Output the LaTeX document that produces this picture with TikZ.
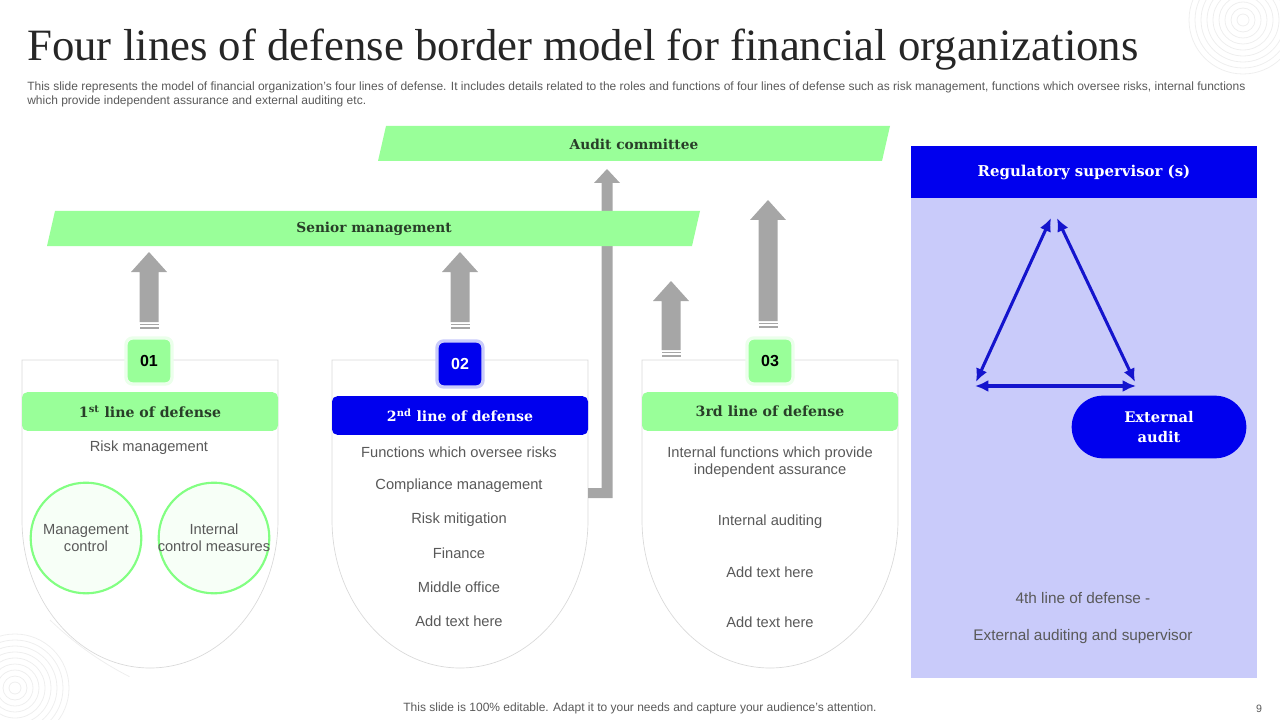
\documentclass[tikz,border=0pt]{standalone}
\usepackage{fontspec}
\setmainfont{Liberation Sans}
\newfontfamily\titlefont{Liberation Serif}
\newfontfamily\slabfont{DejaVu Serif}
\usepackage{tikz}
\usetikzlibrary{arrows.meta,positioning,calc}
\definecolor{bandgreen}{RGB}{153,255,153}
\definecolor{deepblue}{RGB}{0,0,238}
\definecolor{panelblue}{RGB}{201,203,250}
\definecolor{arrowgray}{RGB}{166,166,166}
\definecolor{textgray}{RGB}{89,89,89}
\definecolor{headgreen}{RGB}{40,62,40}
\definecolor{cardline}{RGB}{217,217,217}
\definecolor{ringgray}{RGB}{238,238,238}
\definecolor{trianglblue}{RGB}{20,20,205}

\begin{document}
\begin{tikzpicture}[x=0.75pt,y=-0.75pt,
    every node/.style={inner sep=0pt},
    body/.style={font=\fontsize{11}{13}\selectfont, text=textgray, align=center},
    heading/.style={font=\slabfont\bfseries\fontsize{10.3}{12}\selectfont},
    linebar/.style={heading, font=\slabfont\bfseries\fontsize{10.6}{12}\selectfont, rounded corners=4pt, minimum width=192pt, minimum height=29pt},
    badge/.style={rounded corners=5pt, minimum size=34.5pt, line width=2.5pt, font=\bfseries\fontsize{12}{14}\selectfont},
    bubble/.style={circle, minimum size=83pt, fill=green!3, draw=bandgreen!85!green, line width=1.6pt},
    card/.style={draw=cardline, fill=white, line width=0.5pt},
    twoway/.style={{Latex[length=10pt,width=9pt]}-{Latex[length=10pt,width=9pt]}, trianglblue, line width=2.3pt}
]
\useasboundingbox (0,0) rectangle (1280,720);

% faint rings
\foreach \r in {6,12,...,54} {
  \draw[ringgray, line width=0.6pt] (1243,20) circle (\r);
  \draw[ringgray, line width=0.6pt] (15,688) circle (\r);
}
\draw[ringgray, line width=0.6pt] (50,620) arc[start angle=134, end angle=117, radius=330];

% title and intro
\node[anchor=base west, font=\titlefont\fontsize{33.6}{38}\selectfont, text={rgb,255:red,38;green,38;blue,38}] (title) at (27,61)
  {Four lines of defense border model for financial organizations};
\node[anchor=north west, align=left, font=\fontsize{9}{10.5}\selectfont, text=textgray] (intro) at (27,82)
  {This slide represents the model of financial organization's four lines of defense. It includes details related to the roles and functions of four lines of defense such as risk management, functions which oversee risks, internal functions\\
   which provide independent assurance and external auditing etc.};

% cards
\foreach \cx in {22,332,642}
  \draw[card] (\cx,360) -- (\cx,520) arc[start angle=180, end angle=0, x radius=128, y radius=148] -- (\cx+256,360) -- cycle;

% block arrows
\foreach \ax/\tip/\base in {149/252/330, 460/252/330, 768/200/329, 671/281/358} {
  \fill[arrowgray] (\ax-9.5,\base-8) -- (\ax-9.5,\tip+20) -- (\ax-18,\tip+20) -- (\ax,\tip)
     -- (\ax+18,\tip+20) -- (\ax+9.5,\tip+20) -- (\ax+9.5,\base-8) -- cycle;
  \fill[arrowgray] (\ax-9.5,\base-6.5) rectangle (\ax+9.5,\base-5);
  \fill[arrowgray] (\ax-9.5,\base-3) rectangle (\ax+9.5,\base-1.5);
}
% elbow arrow from 2nd line to audit committee
\fill[arrowgray] (588,488) -- (601.5,488) -- (601.5,183) -- (594,183) -- (607,169) -- (620,183)
   -- (612.5,183) -- (612.5,498) -- (588,498) -- cycle;

% banners
\fill[bandgreen] (378,161) -- (386,126) -- (890,126) -- (882,161) -- cycle;
\node[heading, text=headgreen] (audit) at (634,144) {Audit committee};
\fill[bandgreen] (47,246) -- (55,211) -- (700,211) -- (692,246) -- cycle;
\node[heading, text=headgreen] (senior) at (374,229) {Senior management};

% badges and line headings
\node[badge, fill=bandgreen, draw=green!8] (num1) at (149,361) {01};
\node[badge, fill=deepblue, draw=panelblue, text=white] (num2) at (460,364) {02};
\node[badge, fill=bandgreen, draw=green!8] (num3) at (770,361) {03};

\node[linebar, fill=bandgreen, text=headgreen] (line1) at (150,411.5) {1\textsuperscript{st} line of defense};
\node[linebar, fill=deepblue, text=white] (line2) at (460,415.5) {2\textsuperscript{nd} line of defense};
\node[linebar, fill=bandgreen, text=headgreen] (line3) at (770,411.5) {3rd line of defense};

% 1st line
\node[body] (risk1) at (149,448) {Risk management};
\node[bubble] (mgmt) at (86,538) {};
\node[body] (mgmt-text) at (mgmt) {Management\\control};
\node[bubble] (intctl) at (214,538) {};
\node[body] (intctl-text) at (intctl) {Internal\\control measures};

% 2nd line
\foreach \txt [count=\i] in {Functions which oversee risks, Compliance management, Risk mitigation,
    Finance, Middle office, Add text here}
  \node[body] (item2-\i) at (459,{452+33.8*(\i-1)}) {\txt};

% 3rd line
\node[body] (item3-1) at (770,462) {Internal functions which provide\\independent assurance};
\node[body] (item3-2) at (770,522) {Internal auditing};
\node[body] (item3-3) at (770,572) {Add text here};
\node[body] (item3-4) at (770,622) {Add text here};

% 4th line panel
\fill[panelblue] (911,146) rectangle (1257,678);
\node[heading, font=\slabfont\bfseries\fontsize{11.2}{13}\selectfont, fill=deepblue, text=white,
      minimum width=259.5pt, minimum height=39pt] (regsup) at (1084,172)
  {Regulatory supervisor (s)};
\coordinate (apexL) at (1051,218);
\coordinate (apexR) at (1057,218);
\coordinate (baseL) at (976,382);
\coordinate (baseR) at (1135,382);
\coordinate (footL) at (975,386);
\coordinate (footR) at (1136,386);
\draw[twoway] (apexL) -- (baseL);
\draw[twoway] (apexR) -- (baseR);
\draw[twoway] (footL) -- (footR);
\node[heading, fill=deepblue, text=white, align=center, rounded corners=23.5pt,
      minimum width=131pt, minimum height=47pt, font=\slabfont\bfseries\fontsize{11}{14.5}\selectfont] (extaudit) at (1159,427)
  {External\\audit};
\node[body, font=\fontsize{11.5}{13}\selectfont] (fourth) at (1083,598) {4th line of defense -};
\node[body, font=\fontsize{11.5}{13}\selectfont] (extsup) at (1083,637) {External auditing and supervisor};

% footer
\node[font=\fontsize{9}{11}\selectfont, text=textgray] (footer) at (640,708)
  {This slide is 100\% editable. Adapt it to your needs and capture your audience's attention.};
\node[font=\fontsize{8}{10}\selectfont, text=textgray] (pageno) at (1259,709) {9};
\end{tikzpicture}
\end{document}
